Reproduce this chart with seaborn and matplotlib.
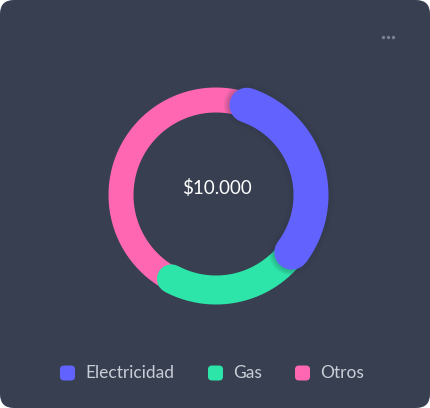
import numpy as np
import pandas as pd
import matplotlib
matplotlib.use("Agg")
import matplotlib.pyplot as plt
import matplotlib.patheffects as pe
from matplotlib.patches import FancyBboxPatch
import seaborn as sns

# data
categorias = ["Electricidad", "Gas", "Otros"]
montos = [3000, 2250, 4750]
colores = ["#6262ff", "#2de5a8", "#ff67b2"]
total_label = "$10.000"

sns.set_theme(style="white")
plt.rcParams["font.family"] = ["Lato", "DejaVu Sans"]

W, H = 430, 408
fig = plt.figure(figsize=(W / 100, H / 100), dpi=100, facecolor="white")
ax = fig.add_axes([0, 0, 1, 1])
ax.set_xlim(0, W)
ax.set_ylim(H, 0)
ax.axis("off")

bg = "#373f51"
card = FancyBboxPatch((0, 0), W, H, boxstyle="round,pad=0,rounding_size=14",
                      facecolor=bg, edgecolor="none", transform=ax.transData, zorder=0)
ax.add_patch(card)

# donut geometry (pixels)
cx, cy, r = 216, 195, 95
start = 71.0
anchos = {"Electricidad": 35, "Gas": 29, "Otros": 25}
px = 72 / 100

fracs = np.array(montos) / sum(montos)
bounds = []
a = start
for f in fracs:
    bounds.append((a, a - f * 360))
    a -= f * 360

orden = [2, 1, 0]
for i in orden:
    a0, a1 = bounds[i]
    th = np.radians(np.linspace(a0, a1, 200))
    df = pd.DataFrame({"x": cx + r * np.cos(th), "y": cy - r * np.sin(th)})
    lw = anchos[categorias[i]] * px
    effects = None
    if categorias[i] == "Electricidad":
        # soft glow
        effects = [pe.Stroke(linewidth=lw + k, foreground="#2a3142", alpha=0.07)
                   for k in (8, 6, 4, 2)] + [pe.Normal()]
    sns.lineplot(data=df, x="x", y="y", sort=False, estimator=None, ax=ax,
                 color=colores[i], linewidth=lw, solid_capstyle="round",
                 path_effects=effects, zorder=2 + (3 - i))

ax.text(cx + 0.5, 188, total_label, ha="center", va="center", color="white",
        fontsize=13.5, zorder=10)

# menu dots
ax.scatter([382.7, 388, 393.3], [37.3] * 3, s=6, color="#79808f", zorder=10,
           linewidths=0)

# legend
leg_x = [60, 208, 295]
leg_y = 373
for i, cat in enumerate(categorias):
    box = FancyBboxPatch((leg_x[i], leg_y - 7.5), 15, 15,
                         boxstyle="round,pad=0,rounding_size=4",
                         facecolor=colores[i], edgecolor="none", zorder=10)
    ax.add_patch(box)
    ax.text(leg_x[i] + 25, leg_y + 0.5, cat, ha="left", va="center",
            color="#c9cdd5", fontsize=12.5, zorder=10)

fig.savefig("out.png", dpi=100, facecolor="white")
